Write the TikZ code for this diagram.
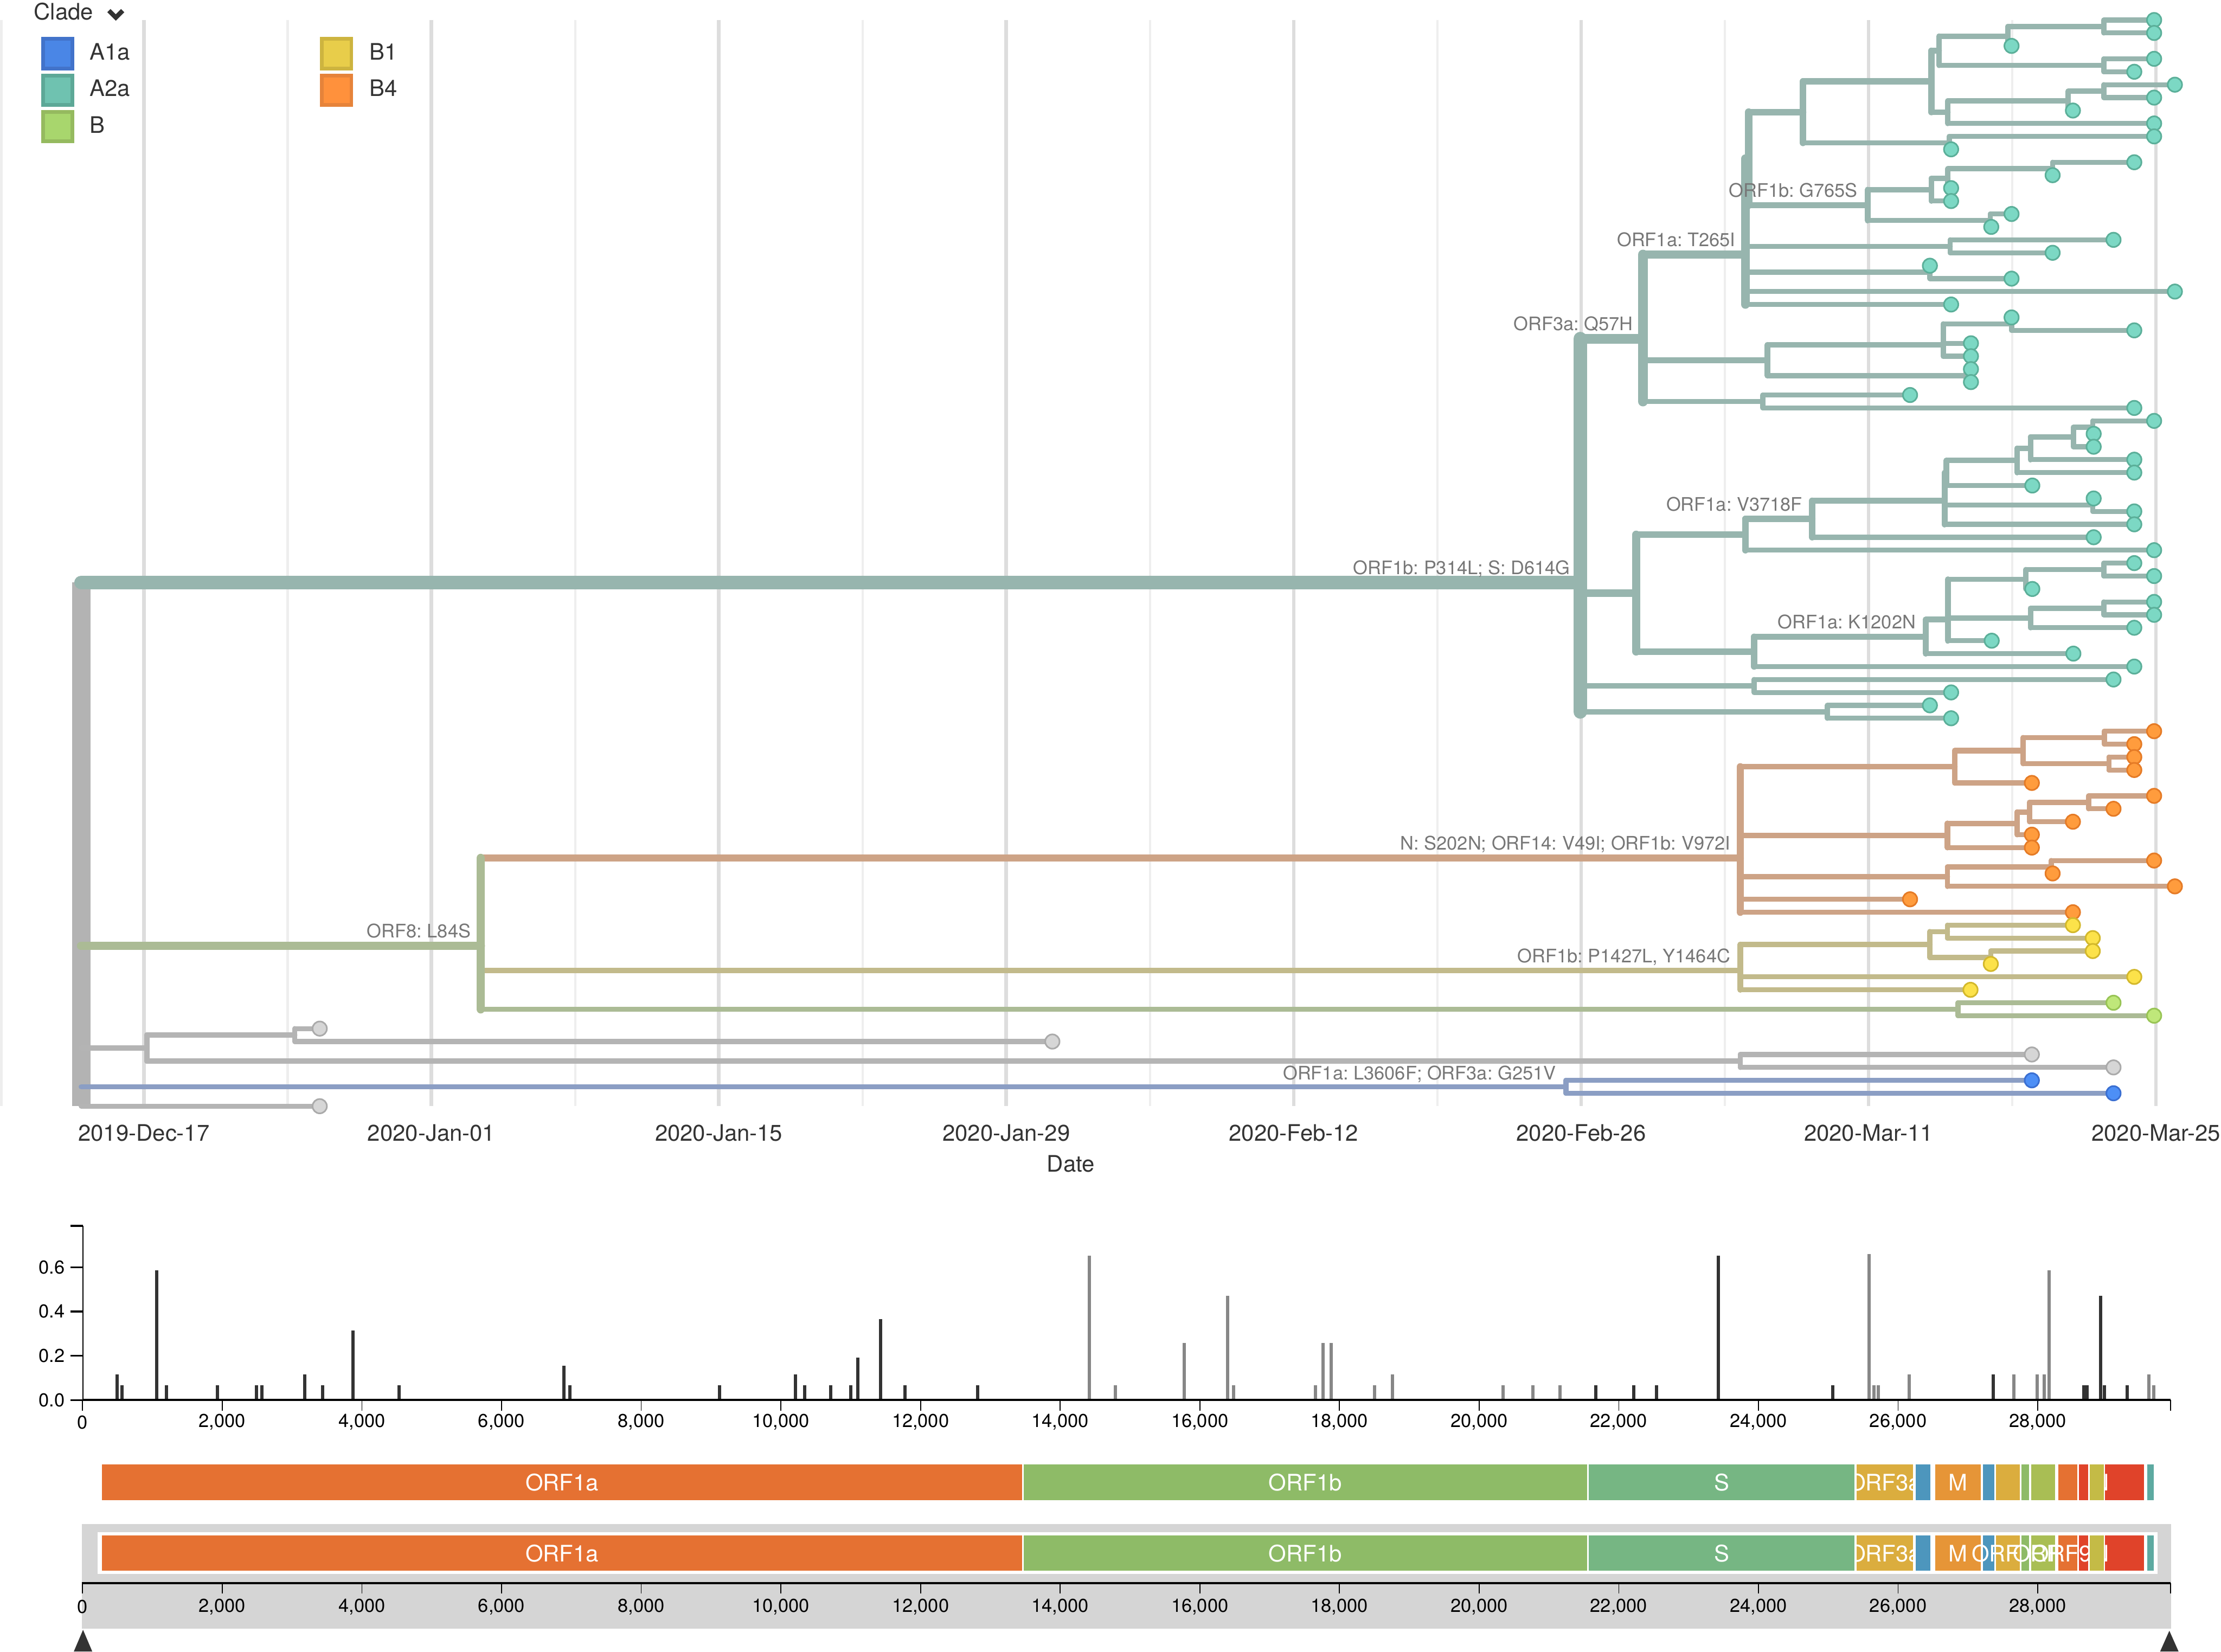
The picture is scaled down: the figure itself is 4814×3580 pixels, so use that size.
\documentclass[tikz,border=0pt]{standalone}
\usepackage{fontspec}
\setmainfont{TeX Gyre Heros}
\usetikzlibrary{calc}
\frenchspacing

% text and grid
\definecolor{txtdark}{HTML}{333333}
\definecolor{mutgray}{HTML}{777777}
\definecolor{gridmajor}{HTML}{DDDDDD}
\definecolor{gridminor}{HTML}{EEEEEE}
\definecolor{navgray}{HTML}{D5D5D5}
% branches
\definecolor{brroot}{HTML}{B3B3B3}
\definecolor{brteal}{HTML}{97B5AE}
\definecolor{brtan}{HTML}{CDA386}
\definecolor{brkhaki}{HTML}{C2BA8B}
\definecolor{brsage}{HTML}{ABBB95}
\definecolor{brgray}{HTML}{B4B4B4}
\definecolor{brblue}{HTML}{8B9EC4}
% tips
\definecolor{tealfill}{HTML}{7CD8C4}\definecolor{tealline}{HTML}{5BAF99}
\definecolor{orangefill}{HTML}{FF9C3D}\definecolor{orangeline}{HTML}{E57B26}
\definecolor{yellowfill}{HTML}{FCE24A}\definecolor{yellowline}{HTML}{D3B82B}
\definecolor{greenfill}{HTML}{BFE77A}\definecolor{greenline}{HTML}{98C455}
\definecolor{grayfill}{HTML}{D6D6D6}\definecolor{grayline}{HTML}{AAAAAA}
\definecolor{bluefill}{HTML}{4D8FF6}\definecolor{blueline}{HTML}{3A6FD2}
% legend
\definecolor{legAone}{HTML}{4A86E6}\definecolor{legAoneline}{HTML}{4273CA}
\definecolor{legAtwo}{HTML}{6FC2B0}\definecolor{legAtwoline}{HTML}{5DA897}
\definecolor{legB}{HTML}{A8D66D}\definecolor{legBline}{HTML}{95BA5F}
\definecolor{legBone}{HTML}{E8CD4A}\definecolor{legBoneline}{HTML}{CDB43F}
\definecolor{legBfour}{HTML}{FF913C}\definecolor{legBfourline}{HTML}{E6833A}
% genes
\definecolor{geneorange}{HTML}{E57132}
\definecolor{genegreen}{HTML}{8EBB67}
\definecolor{geneteal}{HTML}{76B683}
\definecolor{genegold}{HTML}{DBAD3E}
\definecolor{geneblue}{HTML}{4D96BD}
\definecolor{genemango}{HTML}{E69537}
\definecolor{genelime}{HTML}{A9BE54}
\definecolor{genered}{HTML}{E0432A}
\definecolor{geneolive}{HTML}{C4BB46}
\definecolor{genecyan}{HTML}{5DAAA1}

\tikzset{
  branch/.style={line cap=round},
  bw/.style={line width={(10.5+0.35*#1)*0.2845pt}},
  tip/.style={circle, inner sep=0pt, minimum size=0.31cm, line width=1pt},
  tipteal/.style={tip, fill=tealfill, draw=tealline},
  tiporange/.style={tip, fill=orangefill, draw=orangeline},
  tipyellow/.style={tip, fill=yellowfill, draw=yellowline},
  tipgreen/.style={tip, fill=greenfill, draw=greenline},
  tipgray/.style={tip, fill=grayfill, draw=grayline},
  tipblue/.style={tip, fill=bluefill, draw=blueline},
  mutlbl/.style={anchor=base east, inner sep=0pt, text=mutgray, font=\fontsize{11.5}{13}\selectfont},
  datelbl/.style={inner sep=0pt, text=txtdark, font=\fontsize{14}{16}\selectfont},
  legsq/.style={minimum size=0.64cm, inner sep=0pt, line width=2.28pt},
  legtxt/.style={anchor=base west, inner sep=0pt, text=txtdark, font=\fontsize{14}{16}\selectfont},
  ticklbl/.style={inner sep=0pt, text=black, font=\fontsize{11.5}{13}\selectfont},
  bardark/.style={draw=txtdark, line width=2pt},
  barlight/.style={draw=black!47, line width=2pt},
  generect/.style={draw=white, line width=0.8pt},
  genelbl/.style={inner sep=0pt, text=white, font=\fontsize{14}{16}\selectfont},
}

\begin{document}
\begin{tikzpicture}[x=0.01cm, y=-0.01cm,
  declare function={ty(\q)=43.4+28.03*\q; gx(\q)=179+151.35*\q;}]
  \useasboundingbox (0,0) rectangle (4814,3580);

  % Grid lines and dates
  \foreach \xx in {3,623.5,1246.5,1869.5,2492.5,3115.5,3738.5,4361.5}
    \draw[gridminor, line width=1.4pt] (\xx,43) -- (\xx,2398);
  \foreach \xx/\dd in {312/2019-Dec-17, 935/2020-Jan-01, 1558/2020-Jan-15, 2181/2020-Jan-29,
                       2804/2020-Feb-12, 3427/2020-Feb-26, 4050/2020-Mar-11, 4673/2020-Mar-25} {
    \draw[gridmajor, line width=2.2pt] (\xx,43) -- (\xx,2398);
    \node[datelbl] (date\xx) at (\xx,2456) {\dd};
  }
  \node[datelbl] (datetitle) at (2321,2523) {Date};

  % Legend
  \node[legtxt] (cladetitle) at (73,43) {Clade};
  \draw[txtdark, line width=2.8pt] (236,23) -- (251,38) -- (266,23);
  \node[legsq, fill=legAone, draw=legAoneline] (kAone) at (125,116.5) {};
  \node[legsq, fill=legAtwo, draw=legAtwoline] (kAtwo) at (125,195.5) {};
  \node[legsq, fill=legB, draw=legBline] (kB) at (125,274.5) {};
  \node[legsq, fill=legBone, draw=legBoneline] (kBone) at (729.5,116.5) {};
  \node[legsq, fill=legBfour, draw=legBfourline] (kBfour) at (729.5,195.5) {};
  \node[legtxt] (lAone) at (194,130) {A1a};
  \node[legtxt] (lAtwo) at (194,209) {A2a};
  \node[legtxt] (lB) at (194,288) {B};
  \node[legtxt] (lBone) at (800,130) {B1};
  \node[legtxt] (lBfour) at (800,209) {B4};

  % Tips
  \foreach \ii/\xx in {0/4669,1/4669,2/4360,3/4669,4/4626,5/4714,6/4669,7/4493,8/4669,9/4669,
      10/4229,11/4626,12/4449,13/4229,14/4229,15/4360,16/4316,17/4581,18/4449,19/4183,
      20/4360,21/4714,22/4229,23/4360,24/4626,25/4272,26/4272,27/4272,28/4272,29/4140,
      30/4626,31/4669,32/4538,33/4538,34/4626,35/4626,36/4405,37/4538,38/4626,39/4626,
      40/4538,41/4669,42/4626,43/4669,44/4405,45/4669,46/4669,47/4626,48/4317,49/4494,
      50/4626,51/4581,52/4229,53/4183,54/4229,55/4669,56/4626,57/4626,58/4626,59/4404,
      60/4669,61/4581,62/4493,63/4404,64/4404,65/4669,66/4449,67/4714,68/4140,69/4493,
      70/4493,71/4536,72/4536,73/4315,74/4626,75/4271,76/4581,77/4669,78/693,79/2281,
      80/4404,81/4581,82/4404,83/4581,84/693}
    \coordinate (t\ii) at (\xx,{ty(\ii)});

  % Internal nodes
  \foreach \pn/\xx/\rr in {na/4560/0.5, nb/4352/1.25, nc/4560/3.5, nd/4203/2.375, nf/4560/5.5,
      ng/4483/6.25, nh/4222/7.125, ne/4186/4.75, ni/4225/9.5, nj/3908/7.125, nk/4449/11.5,
      nl/4222/12.25, nm/4186/13.125, nn/4314/15.5, no/4048/14.3125, np/3790/10.72,
      nq/4227/17.5, nr/4183/19.5, ns/3783/18.14, nv/4360/23.5, nua/4212/24.25,
      nu/4212/25.125, nt/4261/27.5, nw/3831/26.31, nx/3821/29.5, nQ/3561/24.65,
      nab/4536/31.5, nac/4494/32.25, nad/4401/33.125, nae/4372/34.06, naf/4219/35.03,
      nag/4536/37.5, nah/4215/37.18, nV/3928/38.59, nai/3783/39.8, naj/4560/42.5,
      nak/4391/43.25, nal/4560/45.5, nam/4401/46.25, nan/4222/44.75, nao/4222/46.375,
      nK/4174/47.69, nap/3802/48.84, naq/3546/44.32, nar/3802/51.5, nas/3961/53.5,
      nD/3425/43.49,
      nba/4561/55.5, nbb/4571/57.5, nbc/4385/56.5, nbd/4237/57.75, nbe/4527/60.5,
      nbf/4399/61.25, nbg/4372/62.125, nbh/4221/63.06, nbi/4446/65.5, nbj/4221/66.25,
      nBfour/3772/64.81, nbk/4221/70.5, nbl/4315/72.5, nbm/4183/71.5, nBone/3772/73.5,
      nBg/4244/76.5, nL/1042/71.6,
      nga/639/78.5, ngb/3772/80.5, ngc/318/79.5, nA/3394/82.5, root/176/72}
    \coordinate (\pn) at (\xx,{ty(\rr)});

  % Root
  \draw[brroot, bw=85, line cap=butt] (root |- nD) -- (root |- t84);

  % A2a branches
  \foreach \pn/\cn/\kk in {na/t0/1, na/t1/1, nb/na/2, nb/t2/1, nc/t3/1, nc/t4/1, nd/nb/3, nd/nc/2,
      nf/t5/1, nf/t6/1, ng/nf/2, ng/t7/1, nh/ng/3, nh/t8/1, ne/nd/5, ne/nh/4,
      ni/t9/1, ni/t10/1, nj/ne/9, nj/ni/2, nk/t11/1, nk/t12/1, nl/nk/2, nl/t13/1,
      nm/nl/3, nm/t14/1, nn/t15/1, nn/t16/1, no/nm/4, no/nn/2, np/nj/11, np/no/6,
      nq/t17/1, nq/t18/1, nr/t19/1, nr/t20/1, ns/np/17, ns/nq/2, ns/nr/2, ns/t21/1, ns/t22/1,
      nv/t23/1, nv/t24/1, nua/nv/2, nua/t25/1, nu/nua/3, nu/t26/1, nt/t27/1, nt/t28/1,
      nw/nu/4, nw/nt/2, nx/t29/1, nx/t30/1, nQ/ns/23, nQ/nw/6, nQ/nx/2,
      nab/t31/1, nab/t32/1, nac/nab/2, nac/t33/1, nad/nac/3, nad/t34/1, nae/nad/4, nae/t35/1,
      naf/nae/5, naf/t36/1, nag/t37/1, nag/t38/1, nah/naf/6, nah/nag/2, nah/t39/1,
      nV/nah/9, nV/t40/1, nai/nV/10, nai/t41/1, naj/t42/1, naj/t43/1, nak/naj/2, nak/t44/1,
      nal/t45/1, nal/t46/1, nam/nal/2, nam/t47/1, nan/nak/3, nan/nam/3, nao/nan/6, nao/t48/1,
      nK/nao/7, nK/t49/1, nap/nK/8, nap/t50/1, naq/nai/11, naq/nap/9, nar/t51/1, nar/t52/1,
      nas/t53/1, nas/t54/1, nD/nQ/31, nD/naq/20, nD/nar/2, nD/nas/2, root/nD/55}
    \draw[branch, brteal, bw=\kk] (\pn |- \cn) -- (\cn);
  \foreach \pn/\fa/\la/\kk in {na/t0/t1/2, nb/na/t2/3, nc/t3/t4/2, nd/nb/nc/5, nf/t5/t6/2,
      ng/nf/t7/3, nh/ng/t8/4, ne/nd/nh/9, ni/t9/t10/2, nj/ne/ni/11, nk/t11/t12/2, nl/nk/t13/3,
      nm/nl/t14/4, nn/t15/t16/2, no/nm/nn/6, np/nj/no/17, nq/t17/t18/2, nr/t19/t20/2,
      ns/np/t22/23, nv/t23/t24/2, nua/nv/t25/3, nu/nua/t26/4, nt/t27/t28/2, nw/nu/nt/6,
      nx/t29/t30/2, nQ/ns/nx/31, nab/t31/t32/2, nac/nab/t33/3, nad/nac/t34/4, nae/nad/t35/5,
      naf/nae/t36/6, nag/t37/t38/2, nah/naf/t39/9, nV/nah/t40/10, nai/nV/t41/11,
      naj/t42/t43/2, nak/naj/t44/3, nal/t45/t46/2, nam/nal/t47/3, nan/nak/nam/6,
      nao/nan/t48/7, nK/nao/t49/8, nap/nK/t50/9, naq/nai/nap/20, nar/t51/t52/2,
      nas/t53/t54/2, nD/nQ/nas/55}
    \draw[branch, brteal, bw=\kk] (\pn |- \fa) -- (\pn |- \la);

  % B4 branches
  \foreach \pn/\cn/\kk in {nba/t55/1, nba/t56/1, nbb/t57/1, nbb/t58/1, nbc/nba/2, nbc/nbb/2,
      nbd/nbc/4, nbd/t59/1, nbe/t60/1, nbe/t61/1, nbf/nbe/2, nbf/t62/1, nbg/nbf/3, nbg/t63/1,
      nbh/nbg/4, nbh/t64/1, nbi/t65/1, nbi/t66/1, nbj/nbi/2, nbj/t67/1, nBfour/nbd/5,
      nBfour/nbh/5, nBfour/nbj/3, nBfour/t68/1, nBfour/t69/1, nL/nBfour/15}
    \draw[branch, brtan, bw=\kk] (\pn |- \cn) -- (\cn);
  \foreach \pn/\fa/\la/\kk in {nba/t55/t56/2, nbb/t57/t58/2, nbc/nba/nbb/4, nbd/nbc/t59/5,
      nbe/t60/t61/2, nbf/nbe/t62/3, nbg/nbf/t63/4, nbh/nbg/t64/5, nbi/t65/t66/2,
      nbj/nbi/t67/3, nBfour/nbd/t69/15}
    \draw[branch, brtan, bw=\kk] (\pn |- \fa) -- (\pn |- \la);

  % B1 branches
  \foreach \pn/\cn/\kk in {nbk/t70/1, nbk/t71/1, nbl/t72/1, nbl/t73/1, nbm/nbk/2, nbm/nbl/2,
      nBone/nbm/4, nBone/t74/1, nBone/t75/1, nL/nBone/6}
    \draw[branch, brkhaki, bw=\kk] (\pn |- \cn) -- (\cn);
  \foreach \pn/\fa/\la/\kk in {nbk/t70/t71/2, nbl/t72/t73/2, nbm/nbk/nbl/4, nBone/nbm/t75/6}
    \draw[branch, brkhaki, bw=\kk] (\pn |- \fa) -- (\pn |- \la);

  % B branches
  \foreach \pn/\cn/\kk in {nBg/t76/1, nBg/t77/1, nL/nBg/2, root/nL/23}
    \draw[branch, brsage, bw=\kk] (\pn |- \cn) -- (\cn);
  \foreach \pn/\fa/\la/\kk in {nBg/t76/t77/2, nL/nBfour/nBg/23}
    \draw[branch, brsage, bw=\kk] (\pn |- \fa) -- (\pn |- \la);

  % unassigned and A1a branches
  \foreach \pn/\cn/\kk in {nga/t78/1, nga/t79/1, ngb/t80/1, ngb/t81/1, ngc/nga/2, ngc/ngb/2,
      root/ngc/4, root/t84/1}
    \draw[branch, brgray, bw=\kk] (\pn |- \cn) -- (\cn);
  \foreach \pn/\fa/\la/\kk in {nga/t78/t79/2, ngb/t80/t81/2, ngc/nga/ngb/4}
    \draw[branch, brgray, bw=\kk] (\pn |- \fa) -- (\pn |- \la);
  \foreach \pn/\cn/\kk in {nA/t82/1, nA/t83/1, root/nA/2}
    \draw[branch, brblue, bw=\kk] (\pn |- \cn) -- (\cn);
  \draw[branch, brblue, bw=2] (nA |- t82) -- (nA |- t83);

  % Tip circles
  \foreach \ii in {0,...,54} \node[tipteal] (c\ii) at (t\ii) {};
  \foreach \ii in {55,...,69} \node[tiporange] (c\ii) at (t\ii) {};
  \foreach \ii in {70,...,75} \node[tipyellow] (c\ii) at (t\ii) {};
  \foreach \ii in {76,77} \node[tipgreen] (c\ii) at (t\ii) {};
  \foreach \ii in {78,79,80,81,84} \node[tipgray] (c\ii) at (t\ii) {};
  \foreach \ii in {82,83} \node[tipblue] (c\ii) at (t\ii) {};

  % Mutation labels
  \node[mutlbl] (mGsev) at ([shift={(-21,-17.5)}]no) {ORF1b: G765S};
  \node[mutlbl] (mTtwo) at ([shift={(-21,-17.5)}]ns) {ORF1a: T265I};
  \node[mutlbl] (mQfif) at ([shift={(-21,-17.5)}]nQ) {ORF3a: Q57H};
  \node[mutlbl] (mVthr) at ([shift={(-21,-17.5)}]nV) {ORF1a: V3718F};
  \node[mutlbl] (mKone) at ([shift={(-21,-17.5)}]nK) {ORF1a: K1202N};
  \node[mutlbl] (mDsix) at ([shift={(-21,-17.5)}]nD) {ORF1b: P314L; S: D614G};
  \node[mutlbl] (mSfour) at ([shift={(-21,-17.5)}]nBfour) {N: S202N; ORF14: V49I; ORF1b: V972I};
  \node[mutlbl] (mPone) at ([shift={(-21,-17.5)}]nBone) {ORF1b: P1427L, Y1464C};
  \node[mutlbl] (mLthr) at ([shift={(-21,-15)}]nA) {ORF1a: L3606F; ORF3a: G251V};
  \node[mutlbl] (mLeig) at ([shift={(-21,-17.5)}]nL) {ORF8: L84S};

  % Entropy axes (positions in kb)
  \draw[black, line width=0.5pt] (180,2657) -- (180,3035);
  \draw[black, line width=1.2pt] (153,2657) -- (180,2657);
  \foreach \yy/\lbl [count=\ii] in {2747/0.6, 2843/0.4, 2939/0.2, 3035/0.0} {
    \draw[black, line width=1.2pt] (153,\yy) -- (180,\yy);
    \node[ticklbl, anchor=east] (ey\ii) at (141,\yy) {\lbl};
  }
  % Entropy bars
  \foreach \pp/\hh in {0.495/0.115, 0.567/0.066, 1.062/0.587, 1.203/0.066, 1.932/0.066,
      2.487/0.066, 2.569/0.066, 3.185/0.115, 3.438/0.066, 3.872/0.315, 4.530/0.066,
      6.896/0.156, 6.977/0.066, 9.119/0.066, 10.212/0.115, 10.343/0.066, 10.717/0.066,
      11.000/0.066, 11.101/0.193, 11.425/0.366, 11.779/0.066, 12.820/0.066, 21.667/0.066,
      22.216/0.066, 22.541/0.066, 23.425/0.653, 25.063/0.066, 27.360/0.115, 28.663/0.066,
      28.705/0.066, 28.897/0.47, 28.957/0.066, 29.283/0.066}
    \draw[bardark] ({gx(\pp)},3035) -- ({gx(\pp)},{3035-480*\hh});
  \foreach \pp/\hh in {14.418/0.653, 14.792/0.066, 15.778/0.258, 16.398/0.47, 16.480/0.066,
      17.659/0.066, 17.761/0.258, 17.883/0.258, 18.503/0.066, 18.758/0.115, 20.343/0.066,
      20.771/0.066, 21.158/0.066, 25.581/0.66, 25.652/0.066, 25.713/0.066, 26.160/0.115,
      27.654/0.115, 27.991/0.115, 28.092/0.115, 28.164/0.587, 29.588/0.115, 29.659/0.066}
    \draw[barlight] ({gx(\pp)},3035) -- ({gx(\pp)},{3035-480*\hh});
  \draw[black, line width=1.4pt] (179,3035) -- ({gx(29.903)},3035);
  \foreach \pp/\lbl in {0/0, 2/{2,000}, 4/{4,000}, 6/{6,000}, 8/{8,000}, 10/{10,000},
      12/{12,000}, 14/{14,000}, 16/{16,000}, 18/{18,000}, 20/{20,000}, 22/{22,000},
      24/{24,000}, 26/{26,000}, 28/{28,000}} {
    \draw[black, line width=0.6pt] ({gx(\pp)},3035) -- ({gx(\pp)},3058);
    \node[ticklbl] (ex\pp) at ({gx(\pp)},3083) {\lbl};
  }
  \draw[black, line width=0.6pt] ({gx(29.903)},3035) -- ({gx(29.903)},3058);

  % Gene map
  \foreach \gn/\gs/\ge/\gc/\lbl in {ORF1a/0.266/13.468/geneorange/1, ORF1b/13.468/21.555/genegreen/1,
      S/21.563/25.384/geneteal/1, ORF3a/25.393/26.220/genegold/1, E/26.245/26.472/geneblue/0,
      M/26.523/27.191/genemango/1, ORF6/27.202/27.387/geneblue/0, ORF7a/27.394/27.759/genegold/0,
      ORF7b/27.756/27.887/genegreen/0, ORF8/27.894/28.259/genelime/0, N/28.274/29.533/genered/1,
      ORF9b/28.284/28.577/geneorange/0, ORF14/28.734/28.955/geneolive/0,
      ORF10/29.558/29.674/genecyan/0} {
    \draw[generect, fill=\gc] ({gx(\gs)},3173) rectangle ({gx(\ge)},3253);
    \ifnum\lbl=1
      \begin{scope}
        \clip ({gx(\gs)},3173) rectangle ({gx(\ge)},3253);
        \node[genelbl] (gm\gn) at ({gx((\gs+\ge)/2)},3213) {\gn};
      \end{scope}
    \fi
  }

  % Navigation map
  \fill[navgray] (177,3304) rectangle (4706,3530);
  \fill[white] (212,3321) rectangle (4676,3412);
  \foreach \gn/\gs/\ge/\gc/\lbl in {ORF1a/0.266/13.468/geneorange/1, ORF1b/13.468/21.555/genegreen/1,
      S/21.563/25.384/geneteal/1, ORF3a/25.393/26.220/genegold/1, E/26.245/26.472/geneblue/0,
      M/26.523/27.191/genemango/1, ORF6/27.202/27.387/geneblue/0, ORF7a/27.394/27.759/genegold/2,
      ORF7b/27.756/27.887/genegreen/0, ORF8/27.894/28.259/genelime/2, N/28.274/29.533/genered/1,
      ORF9b/28.284/28.577/geneorange/2, ORF14/28.734/28.955/geneolive/0,
      ORF10/29.558/29.674/genecyan/0} {
    \draw[generect, fill=\gc] ({gx(\gs)},3327) rectangle ({gx(\ge)},3406);
    \ifnum\lbl=1
      \begin{scope}
        \clip ({gx(\gs)},3327) rectangle ({gx(\ge)},3406);
        \node[genelbl] (gn\gn) at ({gx((\gs+\ge)/2)},3367) {\gn};
      \end{scope}
    \else\ifnum\lbl=2
      \node[genelbl] (gn\gn) at ({gx((\gs+\ge)/2)},3367) {\gn};
    \fi\fi
  }
  \draw[black, line width=1.4pt] (177,3432) -- ({gx(29.903)},3432);
  \foreach \pp/\lbl in {0/0, 2/{2,000}, 4/{4,000}, 6/{6,000}, 8/{8,000}, 10/{10,000},
      12/{12,000}, 14/{14,000}, 16/{16,000}, 18/{18,000}, 20/{20,000}, 22/{22,000},
      24/{24,000}, 26/{26,000}, 28/{28,000}} {
    \draw[black, line width=0.6pt] ({gx(\pp)},3432) -- ({gx(\pp)},3454);
    \node[ticklbl] (nx\pp) at ({gx(\pp)},3483) {\lbl};
  }
  \draw[black, line width=0.6pt] ({gx(29.903)},3432) -- ({gx(29.903)},3454);
  % Brush handles
  \fill[txtdark] (180,3533) -- (200,3580) -- (160,3580) -- cycle;
  \fill[txtdark] (4702,3535) -- (4722,3580) -- (4682,3580) -- cycle;
\end{tikzpicture}
\end{document}
